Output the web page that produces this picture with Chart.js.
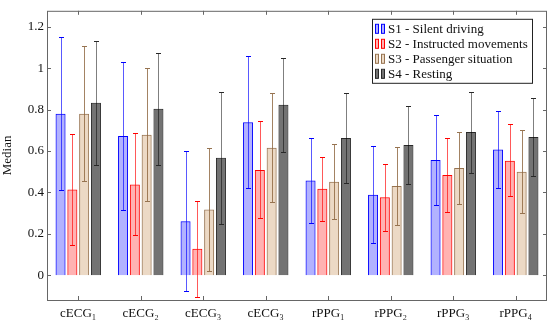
<!DOCTYPE html>
<html>
<head>
<meta charset="utf-8">
<script src="https://cdn.jsdelivr.net/npm/chart.js@4.4.1/dist/chart.umd.min.js"></script>
<style>
  html, body { margin: 0; padding: 0; background: #fff; }
  #wrap { width: 550px; height: 323px; }
</style>
</head>
<body>
<div id="wrap"><canvas id="medianChart" width="550" height="323"></canvas></div>
<script>
// categories and tick labels
const categories = ["cECG\u2081", "cECG\u2082", "cECG\u2083", "cECG\u2083", "rPPG\u2081", "rPPG\u2082", "rPPG\u2083", "rPPG\u2084"];
const yTicks = [0, 0.2, 0.4, 0.6, 0.8, 1, 1.2];
const seriesNames = ["S1 - Silent driving", "S2 - Instructed movements", "S3 - Passenger situation", "S4 - Resting"];

// medians
const s1 = [0.78, 0.672, 0.261, 0.739, 0.457, 0.389, 0.556, 0.607];
const s2 = [0.414, 0.438, 0.128, 0.508, 0.417, 0.376, 0.484, 0.553];
const s3 = [0.78, 0.678, 0.317, 0.616, 0.451, 0.431, 0.518, 0.50];
const s4 = [0.833, 0.804, 0.567, 0.823, 0.663, 0.629, 0.691, 0.667];

// error bar ends (upper / lower)
const s1Hi = [1.15, 1.032, 0.60, 1.059, 0.664, 0.624, 0.774, 0.795];
const s1Lo = [0.41, 0.314, -0.078, 0.42, 0.252, 0.153, 0.338, 0.419];
const s2Hi = [0.68, 0.685, 0.358, 0.745, 0.572, 0.538, 0.664, 0.728];
const s2Lo = [0.147, 0.193, -0.104, 0.274, 0.263, 0.213, 0.303, 0.381];
const s3Hi = [1.107, 1.0, 0.613, 0.878, 0.632, 0.621, 0.691, 0.702];
const s3Lo = [0.455, 0.357, 0.022, 0.355, 0.269, 0.242, 0.342, 0.298];
const s4Hi = [1.13, 1.075, 0.887, 1.05, 0.88, 0.817, 0.884, 0.854];
const s4Lo = [0.532, 0.532, 0.247, 0.596, 0.446, 0.44, 0.495, 0.481];

const FONT = "'Liberation Serif', 'DejaVu Serif', serif";

const styles = [
  { border: "rgb(0,0,255)",    fill: "rgba(0,0,255,0.3)",    err: "rgba(0,0,255,0.65)" },
  { border: "rgb(255,0,0)",    fill: "rgba(255,0,0,0.3)",    err: "rgba(255,0,0,0.65)" },
  { border: "rgb(150,115,80)", fill: "rgba(191,128,64,0.3)", err: "rgba(140,100,60,0.8)" },
  { border: "rgb(40,40,40)",   fill: "rgba(0,0,0,0.55)",     err: "rgba(0,0,0,0.5)" }
];

const values = [s1, s2, s3, s4];
const highs = [s1Hi, s2Hi, s3Hi, s4Hi];
const lows = [s1Lo, s2Lo, s3Lo, s4Lo];

// error bars drawn on top of each bar
const errorBars = {
  id: "errorBars",
  afterDatasetsDraw(chart) {
    const ctx = chart.ctx;
    const y = chart.scales.y;
    ctx.save();
    chart.data.datasets.forEach((ds, i) => {
      const meta = chart.getDatasetMeta(i);
      meta.data.forEach((bar, j) => {
        const x = Math.round(bar.x) + 0.5;
        const yHi = Math.round(y.getPixelForValue(highs[i][j])) + 0.5;
        const yLo = Math.round(y.getPixelForValue(lows[i][j])) + 0.5;
        ctx.strokeStyle = styles[i].err;
        ctx.lineWidth = 1;
        ctx.beginPath();
        ctx.moveTo(x, yHi);
        ctx.lineTo(x, yLo);
        ctx.stroke();
        ctx.strokeStyle = styles[i].border;
        ctx.beginPath();
        ctx.moveTo(x - 2.5, yHi); ctx.lineTo(x + 2.5, yHi);
        ctx.moveTo(x - 2.5, yLo); ctx.lineTo(x + 2.5, yLo);
        ctx.stroke();
      });
    });
    ctx.restore();
  }
};

// axis box with inward ticks on all sides
const frame = {
  id: "frame",
  afterDraw(chart) {
    const { ctx, chartArea: a, scales } = chart;
    ctx.save();
    ctx.strokeStyle = "#666";
    ctx.lineWidth = 1;
    ctx.strokeRect(a.left + 0.5, a.top + 0.5, a.right - a.left - 1, a.bottom - a.top);
    ctx.beginPath();
    yTicks.forEach(v => {
      const py = Math.round(scales.y.getPixelForValue(v)) + 0.5;
      ctx.moveTo(a.left, py); ctx.lineTo(a.left + 4, py);
      ctx.moveTo(a.right, py); ctx.lineTo(a.right - 4, py);
    });
    categories.forEach((c, i) => {
      const px = Math.round(scales.x.getPixelForValue(i)) + 0.5;
      ctx.moveTo(px, a.top); ctx.lineTo(px, a.top + 4);
      ctx.moveTo(px, a.bottom); ctx.lineTo(px, a.bottom - 4);
    });
    ctx.stroke();
    ctx.restore();
  }
};

// legend box inside the plot, top right
const boxLegend = {
  id: "boxLegend",
  afterDraw(chart) {
    const ctx = chart.ctx;
    const a = chart.chartArea;
    const left = a.right - 175, top = a.top + 8, w = 160, rowH = 15;
    ctx.save();
    ctx.fillStyle = "#fff";
    ctx.fillRect(left, top, w, 64);
    ctx.strokeStyle = "#222";
    ctx.lineWidth = 1;
    ctx.strokeRect(left + 0.5, top + 0.5, w, 64);
    ctx.font = "13px " + FONT;
    ctx.textBaseline = "middle";
    seriesNames.forEach((name, i) => {
      const cy = top + 10 + i * rowH;
      [3, 9].forEach(dx => {
        ctx.fillStyle = styles[i].fill;
        ctx.fillRect(left + dx, cy - 4, 3, 9);
        ctx.strokeStyle = styles[i].border;
        ctx.strokeRect(left + dx + 0.5, cy - 4.5, 3, 9);
      });
      ctx.fillStyle = "#111";
      ctx.fillText(name, left + 16, cy + 1);
    });
    ctx.restore();
  }
};

new Chart(document.getElementById("medianChart"), {
  type: "bar",
  data: {
    labels: categories,
    datasets: values.map((v, i) => ({
      label: seriesNames[i],
      data: v,
      backgroundColor: styles[i].fill,
      borderColor: styles[i].border,
      borderWidth: 1,
      categoryPercentage: 0.755,
      barPercentage: 0.85
    }))
  },
  options: {
    responsive: false,
    animation: false,
    layout: { padding: { left: 0, right: 3, top: 8, bottom: 0 } },
    plugins: { legend: { display: false }, tooltip: { enabled: false } },
    scales: {
      x: {
        grid: { display: false, drawTicks: false },
        border: { display: false },
        ticks: { color: "#111", font: { family: FONT, size: 13 }, padding: 6, maxRotation: 0 },
        afterFit(s) { s.height = 23; }
      },
      y: {
        min: -0.12,
        max: 1.277,
        grid: { display: false, drawTicks: false },
        border: { display: false },
        title: { display: true, text: "Median", color: "#111", font: { family: FONT, size: 13 }, padding: 0 },
        ticks: {
          stepSize: 0.2,
          includeBounds: false,
          color: "#111",
          padding: 3,
          font: { family: FONT, size: 13 },
          callback: v => String(+v.toFixed(1))
        },
        afterFit(s) { s.width = 47; }
      }
    }
  },
  plugins: [errorBars, frame, boxLegend]
});
</script>
</body>
</html>
